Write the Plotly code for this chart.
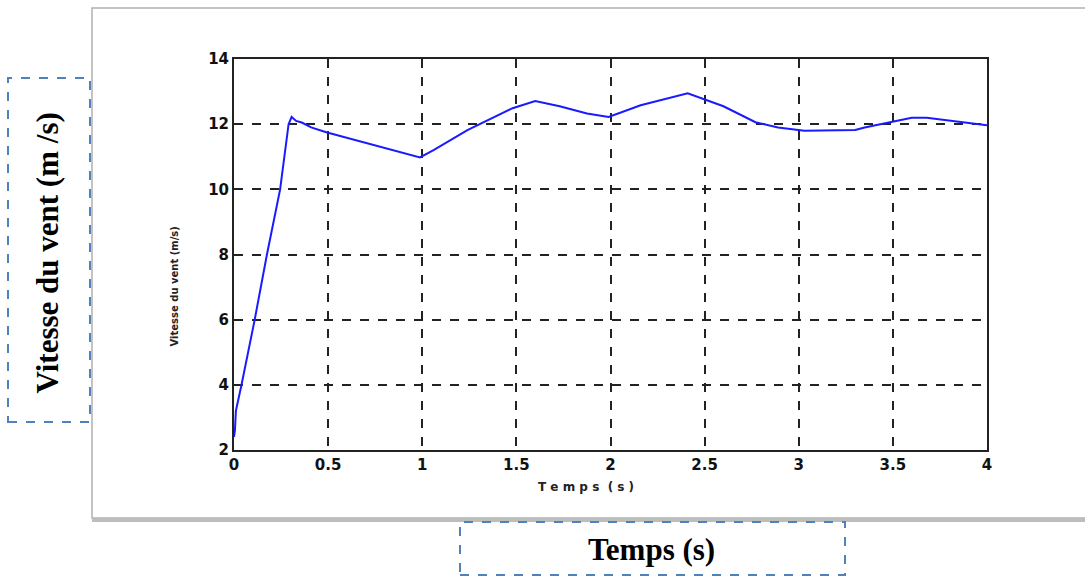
import plotly.graph_objects as go

# Data
time_s = [0.0, 0.005, 0.01, 0.04, 0.11, 0.175, 0.245, 0.29, 0.306, 0.33, 0.36, 0.41, 0.49, 0.71, 0.988,
          1.06, 1.24, 1.48, 1.6, 1.73, 1.875, 1.99, 2.16, 2.41, 2.6, 2.77, 2.89, 3.03, 3.3, 3.35,
          3.53, 3.6, 3.68, 3.8, 3.93, 4.0]
wind_speed = [2.4, 2.6, 3.2, 4.0, 6.0, 8.0, 10.0, 12.0, 12.22, 12.1, 12.05, 11.9, 11.75, 11.42, 10.98,
              11.2, 11.82, 12.49, 12.71, 12.55, 12.33, 12.22, 12.58, 12.95, 12.55, 12.06, 11.9, 11.8, 11.82, 11.9,
              12.12, 12.2, 12.2, 12.12, 12.03, 11.97]
x_ticks = [0, 0.5, 1, 1.5, 2, 2.5, 3, 3.5, 4]
x_tick_labels = ["0", "0.5", "1", "1.5", "2", "2.5", "3", "3.5", "4"]
y_ticks = [2, 4, 6, 8, 10, 12, 14]

W, H = 1085, 577
L, R, T, B = 234, 987, 59, 450


def px(x):
    return (x - L) / (R - L)


def py(y):
    return (B - y) / (B - T)


fig = go.Figure()
fig.add_trace(go.Scatter(x=time_s, y=wind_speed, mode="lines",
                         line=dict(color="#1a1aff", width=2), showlegend=False))

tickfont = dict(family="DejaVu Sans", size=15, color="#111111", weight="bold")
grid = dict(showgrid=True, gridcolor="#222222", griddash="dash", gridwidth=1.5,
            showline=True, linecolor="#222222", linewidth=2, mirror=True,
            zeroline=False, ticks="", tickfont=tickfont)

fig.update_xaxes(range=[0, 4], tickvals=x_ticks, ticktext=x_tick_labels, **grid)
fig.update_yaxes(range=[2, 14], tickvals=y_ticks, **grid)

shapes = []
# outer picture frame with shadow
shapes.append(dict(type="rect", xref="paper", yref="paper",
                   x0=px(92), x1=px(1090), y0=py(518), y1=py(8),
                   line=dict(color="#b0b0b0", width=1.5), layer="below"))
shapes.append(dict(type="line", xref="paper", yref="paper",
                   x0=px(92), x1=px(1090), y0=py(520), y1=py(520),
                   line=dict(color="#bdbdbd", width=4), layer="below"))
# dashed label boxes
shapes.append(dict(type="rect", xref="paper", yref="paper",
                   x0=px(8), x1=px(90), y0=py(422), y1=py(78),
                   line=dict(color="#4f81bd", width=2, dash="dash")))
shapes.append(dict(type="rect", xref="paper", yref="paper",
                   x0=px(460), x1=px(845), y0=py(575), y1=py(522),
                   line=dict(color="#4f81bd", width=2, dash="dash")))

annotations = [
    dict(text="Vitesse du vent (m /s)", xref="paper", yref="paper", x=px(27), y=py(253),
         textangle=-90, showarrow=False,
         font=dict(family="Liberation Serif", size=31, color="black", weight="bold")),
    dict(text="Temps (s)", xref="paper", yref="paper", x=px(651), y=py(569),
         showarrow=False,
         font=dict(family="Liberation Serif", size=31, color="black", weight="bold")),
    dict(text="Vitesse du vent (m/s)", xref="paper", yref="paper", x=px(166), y=py(287),
         textangle=-90, showarrow=False,
         font=dict(family="DejaVu Sans", size=10, color="#222222", weight="bold")),
    dict(text="T e m p s  ( s )", xref="paper", yref="paper", x=px(586), y=py(496),
         showarrow=False,
         font=dict(family="DejaVu Sans", size=12, color="#222222", weight="bold")),
]

fig.update_layout(width=W, height=H, margin=dict(l=L, r=W - R, t=T, b=H - B),
                  plot_bgcolor="white", paper_bgcolor="white",
                  shapes=shapes, annotations=annotations)

fig.write_html("out.html")
